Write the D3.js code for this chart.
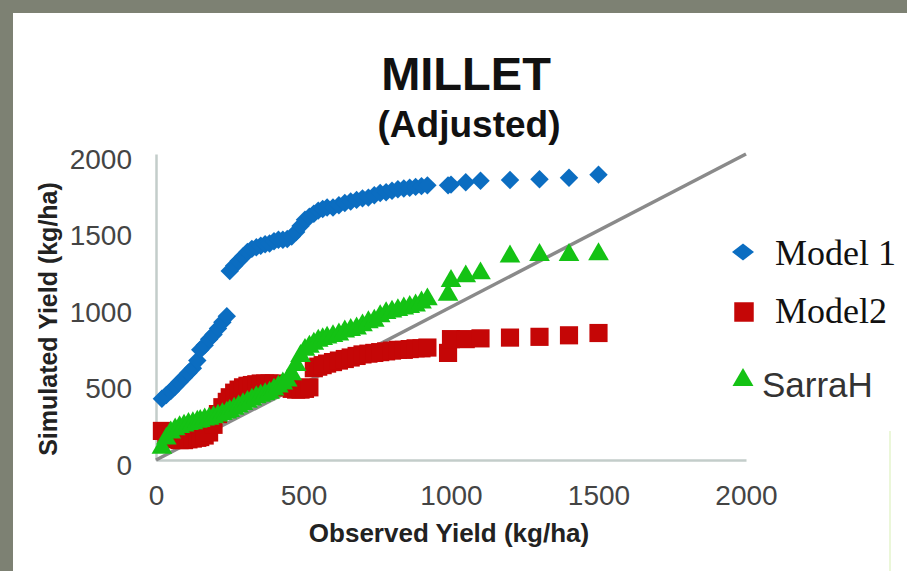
<!DOCTYPE html>
<html>
<head>
<meta charset="utf-8">
<script src="https://cdn.jsdelivr.net/npm/d3@7"></script>
<style>
  body { margin: 0; background: #7d8173; }
  svg { display: block; }
</style>
</head>
<body>
<script>
// observed yield (kg/ha), shared by the three series
var observed = [20, 35, 50, 65, 80, 95, 110, 125, 140, 150,
    165, 180, 195, 210, 225, 240, 250, 265, 280, 295,
    310, 325, 340, 355, 370, 385, 400, 415, 430, 445,
    460, 475, 490, 505, 520, 535, 550, 565, 580, 600,
    620, 640, 660, 680, 700, 720, 740, 760, 780, 800,
    820, 840, 860, 880, 900, 920,
    990, 1000, 1050, 1100, 1200, 1300, 1400, 1500];

var model1 = [400, 425, 450, 480, 510, 540, 570, 600, 650, 720,
    750, 790, 820, 860, 900, 940, 1235, 1270, 1300, 1330,
    1360, 1380, 1390, 1400, 1410, 1415, 1430, 1440, 1440, 1445,
    1460, 1490, 1530, 1570, 1590, 1610, 1630, 1640, 1650, 1650,
    1665, 1680, 1690, 1700, 1710, 1715, 1730, 1745, 1750, 1760,
    1770, 1775, 1780, 1785, 1790, 1795,
    1795, 1800, 1815, 1825, 1830, 1835, 1845, 1865];

var model2 = [190, 165, 145, 135, 130, 130, 135, 140, 145, 150,
    160, 180, 230, 300, 345, 380, 410, 440, 460, 475,
    485, 490, 495, 500, 500, 500, 500, 495, 485, 475,
    465, 460, 460, 465, 475, 600, 610, 620, 630, 640,
    650, 660, 670, 680, 690, 695, 700, 705, 710, 715,
    720, 720, 725, 730, 730, 735,
    700, 790, 790, 795, 800, 805, 815, 830];

var sarrah = [80, 140, 180, 200, 215, 225, 235, 240, 250, 255,
    265, 270, 280, 290, 300, 310, 320, 335, 350, 365,
    380, 395, 410, 420, 430, 440, 460, 480, 500, 520,
    560, 620, 680, 720, 740, 760, 780, 790, 800, 810,
    820, 840, 850, 860, 880, 900, 910, 940, 960, 970,
    980, 990, 1000, 1010, 1030, 1050,
    1080, 1170, 1200, 1220, 1330, 1340, 1340, 1345];

var ticks = [0, 500, 1000, 1500, 2000];

var seriesNames = ["Model 1", "Model2", "SarraH"];
var seriesColors = ["#0b6dc1", "#c50606", "#14c214"];

var width = 907, height = 571;

var svg = d3.select("body").append("svg")
    .attr("width", width)
    .attr("height", height);

svg.append("rect").attr("width", width).attr("height", height).attr("fill", "#7d8173");
svg.append("rect").attr("x", 13).attr("y", 13)
    .attr("width", width - 13).attr("height", height - 13)
    .attr("fill", "#ffffff");
svg.append("line").attr("x1", 890).attr("x2", 890).attr("y1", 431).attr("y2", height)
    .attr("stroke", "#e4f4cc").attr("stroke-width", 1.5);

var x = d3.scaleLinear().domain([0, 2000]).range([156, 746]);
var y = d3.scaleLinear().domain([0, 2000]).range([460, 154]);

// titles
svg.append("text").attr("x", 466).attr("y", 90)
    .attr("text-anchor", "middle")
    .style("font", "bold 47px 'Liberation Sans', Arial, sans-serif")
    .attr("fill", "#111")
    .text("MILLET");
svg.append("text").attr("x", 469).attr("y", 137)
    .attr("text-anchor", "middle")
    .style("font", "bold 37px 'Liberation Sans', Arial, sans-serif")
    .attr("fill", "#111")
    .text("(Adjusted)");

// axes
var xAxis = svg.append("g").attr("transform", "translate(0," + y(0) + ")")
    .call(d3.axisBottom(x).tickValues(ticks).tickSize(0).tickFormat(d3.format("d")));
var yAxis = svg.append("g").attr("transform", "translate(" + x(0) + ",0)")
    .call(d3.axisLeft(y).tickValues(ticks).tickSize(0).tickFormat(d3.format("d")));

[xAxis, yAxis].forEach(function(g){
    g.select(".domain").attr("stroke", "#c3cdca").attr("stroke-width", 2.5);
    g.selectAll("text")
        .style("font", "28px 'Liberation Sans', Arial, sans-serif")
        .attr("fill", "#444");
});
xAxis.selectAll("text").attr("y", 45).attr("dy", 0);
yAxis.selectAll("text").attr("x", -24).attr("dy", "0.5em");

svg.append("text").attr("x", 449).attr("y", 542)
    .attr("text-anchor", "middle")
    .style("font", "bold 26px 'Liberation Sans', Arial, sans-serif")
    .attr("fill", "#222")
    .text("Observed Yield (kg/ha)");
svg.append("text")
    .attr("transform", "translate(57,319) rotate(-90)")
    .attr("text-anchor", "middle")
    .style("font", "bold 25px 'Liberation Sans', Arial, sans-serif")
    .attr("fill", "#222")
    .text("Simulated Yield (kg/ha)");

// 1:1 line
svg.append("line")
    .attr("x1", x(0)).attr("y1", y(0))
    .attr("x2", x(2000)).attr("y2", y(2000))
    .attr("stroke", "#8a8a8a").attr("stroke-width", 3.5);

var diamond = d3.symbol(d3.symbolSquare, 170);
var square = d3.symbol(d3.symbolSquare, 330);
var triangle = d3.symbol(d3.symbolTriangle, 185);

function drawSeries(values, path, color, rot) {
    svg.append("g").selectAll("path")
        .data(values)
        .join("path")
        .attr("d", path)
        .attr("fill", color)
        .attr("transform", function(d, i){
            return "translate(" + x(observed[i]) + "," + y(d) + ")" + (rot ? " rotate(45)" : "");
        });
}

drawSeries(model1, diamond, seriesColors[0], true);
drawSeries(model2, square, seriesColors[1], false);
drawSeries(sarrah, triangle, seriesColors[2], false);

// legend
var legend = svg.append("g");
legend.append("path").attr("d", d3.symbol(d3.symbolSquare, 200))
    .attr("fill", seriesColors[0])
    .attr("transform", "translate(743,252) scale(1.1,0.85) rotate(45)");
legend.append("path").attr("d", d3.symbol(d3.symbolSquare, 380))
    .attr("fill", seriesColors[1])
    .attr("transform", "translate(744,312)");
legend.append("path").attr("d", d3.symbol(d3.symbolTriangle, 190))
    .attr("fill", seriesColors[2])
    .attr("transform", "translate(743,380)");

legend.append("text").attr("x", 775).attr("y", 265)
    .style("font", "36px 'Liberation Serif', 'Times New Roman', serif")
    .attr("fill", "#111").text(seriesNames[0]);
legend.append("text").attr("x", 775).attr("y", 323)
    .style("font", "36px 'Liberation Serif', 'Times New Roman', serif")
    .attr("fill", "#111").text(seriesNames[1]);
legend.append("text").attr("x", 762).attr("y", 397)
    .style("font", "35px 'Liberation Sans', Arial, sans-serif")
    .attr("fill", "#333").text(seriesNames[2]);
</script>
</body>
</html>
